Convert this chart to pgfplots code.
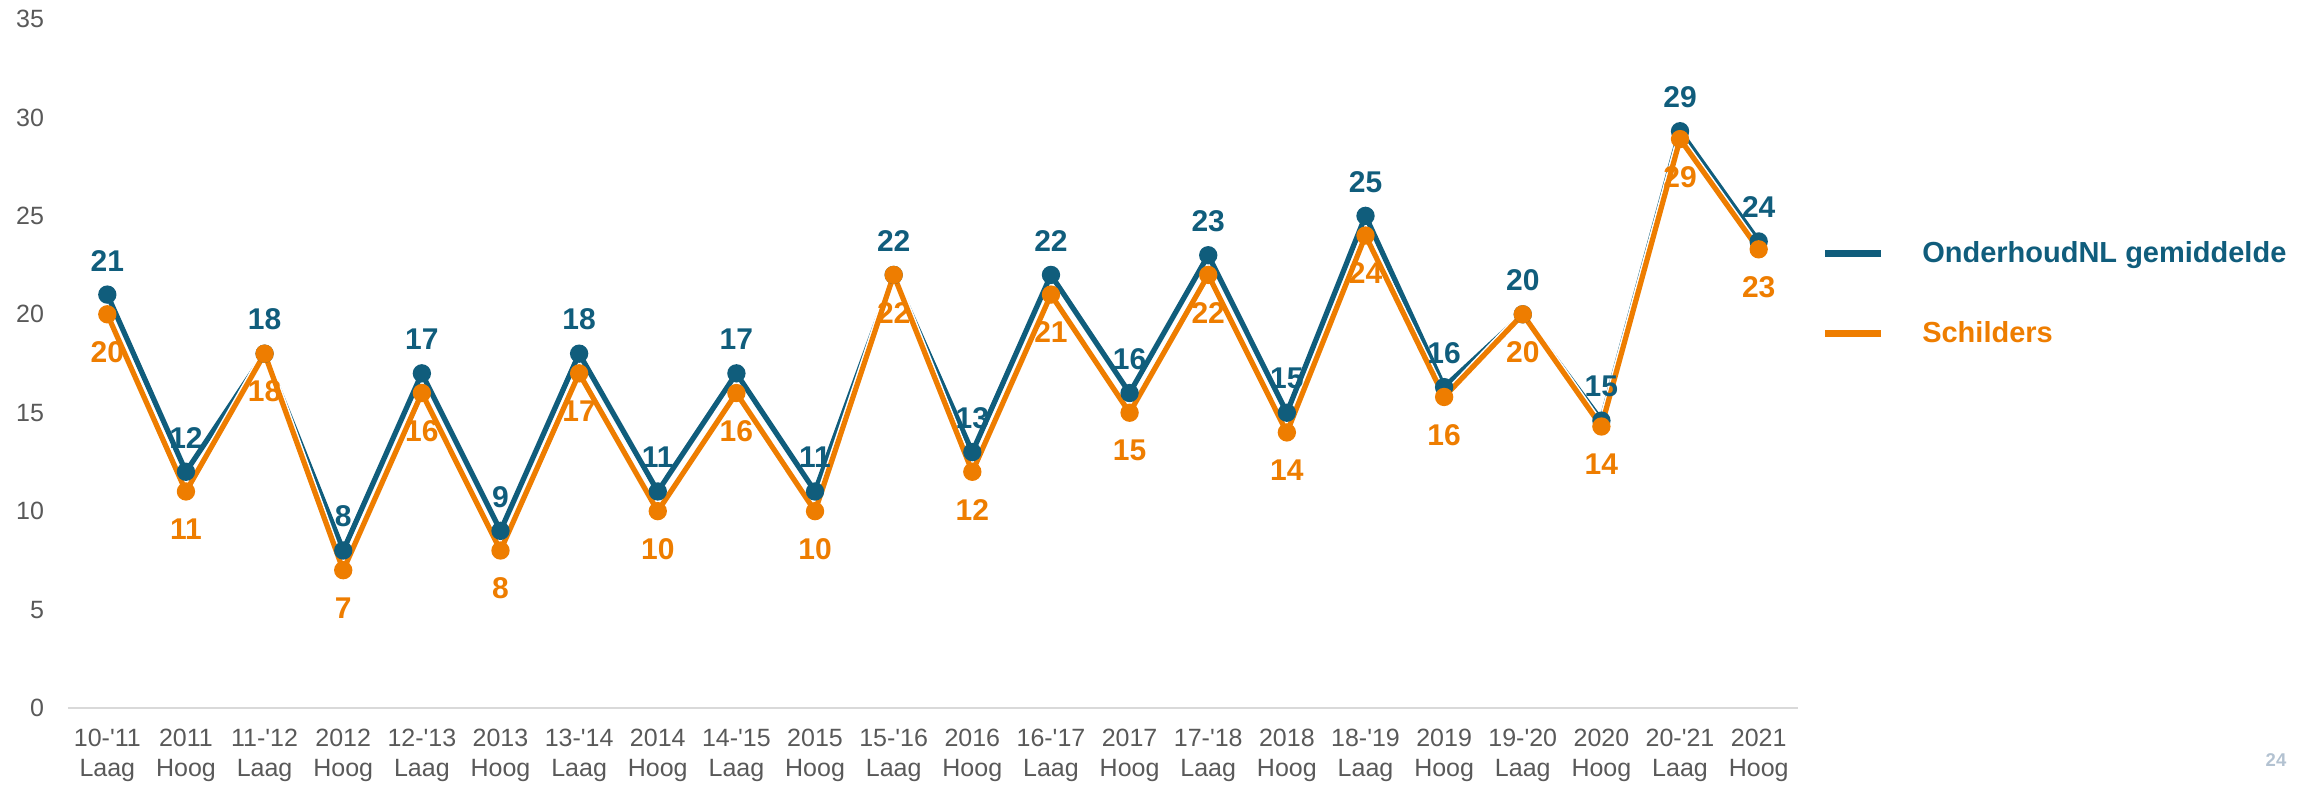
\documentclass[border=0pt]{standalone}
\usepackage{pgfplots}
\usepackage{pgfplotstable}
\pgfplotsset{compat=1.18}
\usepackage{fontspec}
\setmainfont{Liberation Sans}
\definecolor{onlteal}{HTML}{105D7C}
\definecolor{schorange}{HTML}{EE7D00}
\definecolor{tickgray}{HTML}{595959}
\definecolor{axisgray}{HTML}{D9D9D9}
\definecolor{pagegray}{HTML}{B3C2D1}

% x: category index, onl: OnderhoudNL gemiddelde, sch: Schilders
\pgfplotstableread{
x onl sch
0 21 20
1 12 11
2 18 18
3 8 7
4 17 16
5 9 8
6 18 17
7 11 10
8 17 16
9 11 10
10 22 22
11 13 12
12 22 21
13 16 15
14 23 22
15 15 14
16 25 24
17 16.3 15.8
18 20 20
19 14.6 14.3
20 29.3 28.9
21 23.7 23.3
}\seizoen

\begin{document}
\begin{tikzpicture}
\path[use as bounding box] (-27.2pt,-30.4pt) rectangle ++(929.6pt,313.6pt);
\begin{axis}[
  at={(0,0)}, anchor=south west,
  scale only axis, width=692pt, height=275.6pt,
  xmin=-0.5, xmax=21.5, ymin=0, ymax=35,
  xtick={0,...,21},
  xticklabels={{10-\textquotesingle 11\\Laag},{2011\\Hoog},{11-\textquotesingle 12\\Laag},{2012\\Hoog},
    {12-\textquotesingle 13\\Laag},{2013\\Hoog},{13-\textquotesingle 14\\Laag},{2014\\Hoog},
    {14-\textquotesingle 15\\Laag},{2015\\Hoog},{15-\textquotesingle 16\\Laag},{2016\\Hoog},
    {16-\textquotesingle 17\\Laag},{2017\\Hoog},{17-\textquotesingle 18\\Laag},{2018\\Hoog},
    {18-\textquotesingle 19\\Laag},{2019\\Hoog},{19-\textquotesingle 20\\Laag},{2020\\Hoog},
    {20-\textquotesingle 21\\Laag},{2021\\Hoog}},
  ytick={0,5,...,35},
  axis lines*=left,
  y axis line style={draw=none},
  x axis line style={draw=axisgray, line width=0.8pt},
  major tick length=0pt,
  tick style={draw=none},
  x tick label style={font=\fontsize{10}{12}\selectfont, text=tickgray, align=center,
    anchor=north, inner sep=0pt, yshift=-8.4pt},
  y tick label style={font=\fontsize{10}{12}\selectfont, text=tickgray,
    anchor=east, inner sep=0pt, xshift=-9.4pt},
  /pgf/number format/assume math mode=true,
  /pgf/number format/fixed, /pgf/number format/precision=0,
  clip=false,
  legend style={at={(rel axis cs:1.0136,0.6777)}, anchor=north west,
    draw=none, fill=none, inner sep=0pt, outer sep=0pt,
    nodes={inner sep=0pt}, row sep=22.2pt, column sep=15pt,
    font=\fontsize{11.6}{14}\bfseries},
  legend cell align=left,
]
\addplot[color=onlteal, line width=2.1pt, mark=*, mark size=2.6pt,
  nodes near coords, point meta=explicit,
  nodes near coords style={font=\fontsize{12}{14}\bfseries, text=onlteal,
    anchor=center, inner sep=0pt, yshift=13.6pt},
  legend image code/.code={\draw[line width=2.9pt, onlteal] (0pt,0pt) -- (22.4pt,0pt);}]
  table[x=x, y=onl, meta=onl] {\seizoen};
\addlegendentry{\textcolor{onlteal}{OnderhoudNL gemiddelde}}
\addplot[color=white, line width=3.3pt, forget plot] table[x=x, y=sch] {\seizoen};
\addplot[color=schorange, line width=2.1pt, mark=*, mark size=2.6pt,
  nodes near coords, point meta=explicit,
  nodes near coords style={font=\fontsize{12}{14}\bfseries, text=schorange,
    anchor=center, inner sep=0pt, yshift=-15.1pt},
  legend image code/.code={\draw[line width=2.9pt, schorange] (0pt,0pt) -- (22.4pt,0pt);}]
  table[x=x, y=sch, meta=sch] {\seizoen};
\addlegendentry{\textcolor{schorange}{Schilders}}
\end{axis}
\node[font=\fontsize{7.4}{9}\bfseries, text=pagegray] at (883.2pt,-20.8pt) {24};
\end{tikzpicture}
\end{document}
